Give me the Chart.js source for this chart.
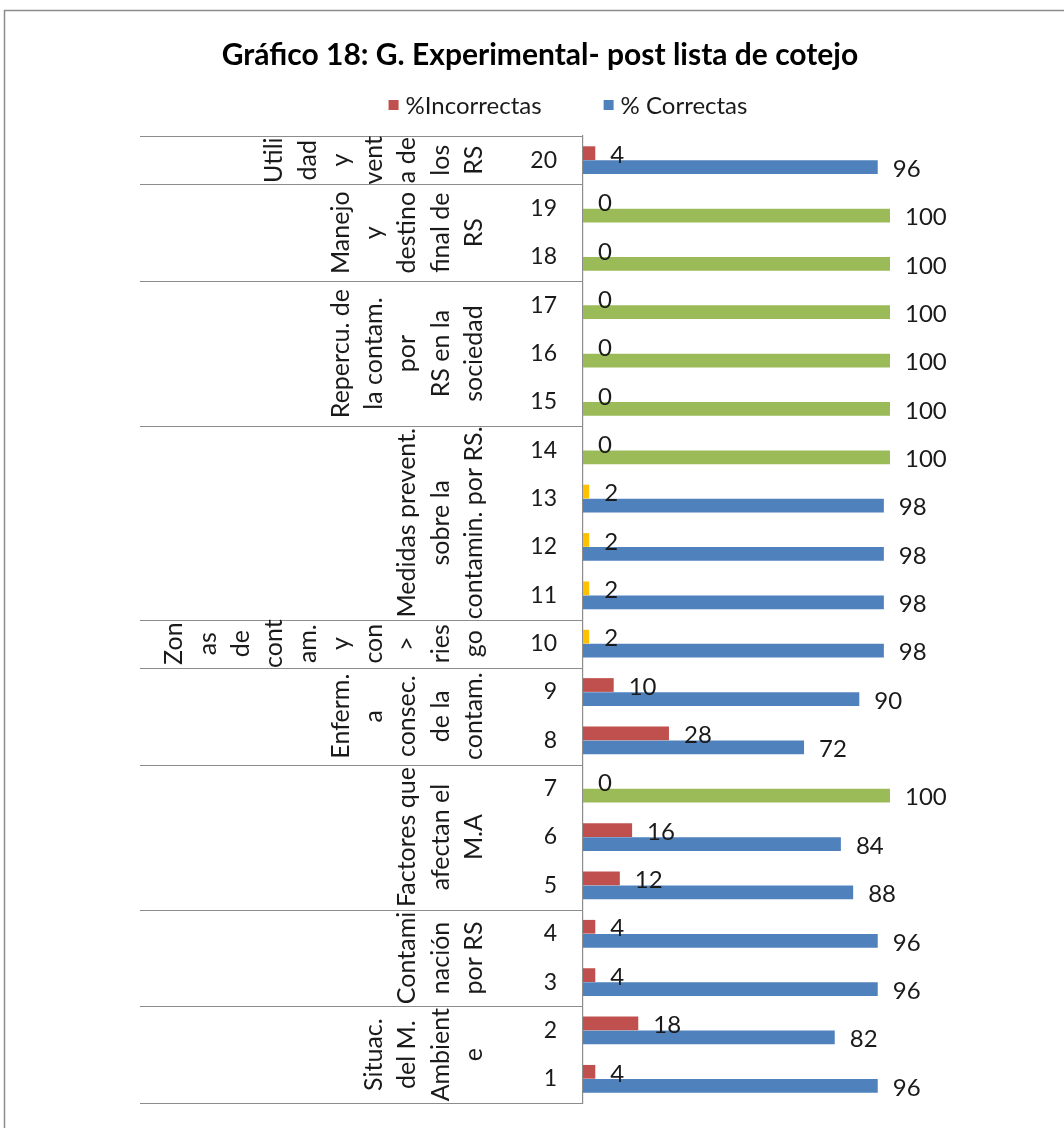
<!DOCTYPE html>
<html>
<head>
<meta charset="utf-8">
<script src="https://cdn.jsdelivr.net/npm/chart.js@4.4.1/dist/chart.umd.min.js"></script>
<style>
html,body{margin:0;padding:0;background:#fff;}
#wrap{width:1064px;height:1128px;position:relative;}
</style>
</head>
<body>
<div id="wrap"><canvas id="c" width="1064" height="1128"></canvas></div>
<script>
// ---- data ----
const chartTitle = 'Gráfico 18: G. Experimental- post lista de cotejo';
const seriesNames = ['%Incorrectas', '% Correctas'];
const categories = ['1','2','3','4','5','6','7','8','9','10','11','12','13','14','15','16','17','18','19','20'];
const incorrectas = [4, 18, 4, 4, 12, 16, 0, 28, 10, 2, 2, 2, 2, 0, 0, 0, 0, 0, 0, 4];
const correctas   = [96, 82, 96, 96, 88, 84, 100, 72, 90, 98, 98, 98, 98, 100, 100, 100, 100, 100, 100, 96];
// group labels (bottom to top), each as its wrapped lines, with the number of items in each group
const groupLines = [
  ['Situac.', 'del M.', 'Ambient', 'e'],
  ['Contami', 'nación', 'por RS'],
  ['Factores que', 'afectan el', 'M.A'],
  ['Enferm.', 'a', 'consec.', 'de la', 'contam.'],
  ['Zon', 'as', 'de', 'cont', 'am.', 'y', 'con', '>', 'ries', 'go'],
  ['Medidas prevent.', 'sobre la', 'contamin. por RS.'],
  ['Repercu. de', 'la contam.', 'por', 'RS en la', 'sociedad'],
  ['Manejo', 'y', 'destino', 'final de', 'RS'],
  ['Utili', 'dad', 'y', 'vent', 'a de', 'los', 'RS']
];
const groupSizes = [2, 2, 3, 2, 1, 4, 3, 2, 1];

// ---- styles ----
const RED = '#C0504D', BLUE = '#4F81BD', GREEN = '#9BBB59', YELLOW = '#FFC000';
const FONT = 'Lato, "Open Sans", sans-serif';
const TEXT = '#1a1a1a';
const LINE = '#8c8c8c';

const framePlugin = {
  id: 'frame',
  beforeDraw(chart) {
    const ctx = chart.ctx;
    ctx.save();
    ctx.fillStyle = '#fff';
    ctx.fillRect(0, 0, chart.width, chart.height);
    ctx.strokeStyle = LINE;
    ctx.lineWidth = 1.5;
    ctx.strokeRect(4.5, 10.5, chart.width + 20, chart.height + 20);
    ctx.restore();
  }
};

const legendPlugin = {
  id: 'customLegend',
  afterDraw(chart) {
    const ctx = chart.ctx;
    ctx.save();
    ctx.font = '24px ' + FONT;
    ctx.textBaseline = 'middle';
    ctx.textAlign = 'left';
    const cols = [RED, BLUE];
    const box = 10, gapText = 7, gapItem = 62;
    const w = seriesNames.map(s => ctx.measureText(s).width);
    const total = box + gapText + w[0] + gapItem + box + gapText + w[1];
    let x = 568 - total / 2;
    const y = 105;
    seriesNames.forEach((s, i) => {
      ctx.fillStyle = cols[i];
      ctx.fillRect(x, y - box / 2, box, box);
      x += box + gapText;
      ctx.fillStyle = TEXT;
      ctx.fillText(s, x, y + 1);
      x += w[i] + gapItem;
    });
    ctx.restore();
  }
};

const tablePlugin = {
  id: 'groupTable',
  afterDraw(chart) {
    const ctx = chart.ctx;
    const ys = chart.scales.y;
    const area = chart.chartArea;
    const band = (area.bottom - area.top) / categories.length;
    const tableLeft = 140;
    ctx.save();
    ctx.strokeStyle = LINE;
    ctx.lineWidth = 1.2;
    let start = 0;
    ctx.beginPath();
    ctx.moveTo(tableLeft, Math.round(area.bottom) + 0.5);
    ctx.lineTo(area.left, Math.round(area.bottom) + 0.5);
    ctx.stroke();
    ctx.font = '25px ' + FONT;
    ctx.fillStyle = TEXT;
    ctx.textAlign = 'center';
    ctx.textBaseline = 'middle';
    groupSizes.forEach((n, g) => {
      const end = start + n - 1;
      const yBottom = ys.getPixelForValue(start) + band / 2;
      const yTop = ys.getPixelForValue(end) - band / 2;
      ctx.beginPath();
      ctx.moveTo(tableLeft, Math.round(yTop) + 0.5);
      ctx.lineTo(area.left, Math.round(yTop) + 0.5);
      ctx.stroke();
      const lines = groupLines[g];
      const yc = (yTop + yBottom) / 2;
      lines.forEach((t, j) => {
        const x = 474 - (lines.length - 1 - j) * 33.3;
        ctx.save();
        ctx.translate(x, yc);
        ctx.rotate(-Math.PI / 2);
        ctx.fillText(t, 0, 0);
        ctx.restore();
      });
      start += n;
    });
    ctx.restore();
  }
};

const labelPlugin = {
  id: 'barLabels',
  afterDatasetsDraw(chart) {
    const ctx = chart.ctx;
    ctx.save();
    ctx.font = '24px ' + FONT;
    ctx.fillStyle = TEXT;
    ctx.textAlign = 'left';
    ctx.textBaseline = 'middle';
    chart.data.datasets.forEach((ds, i) => {
      chart.getDatasetMeta(i).data.forEach((bar, j) => {
        ctx.fillText(String(ds.data[j]), bar.x + 15, bar.y + 2);
      });
    });
    ctx.restore();
  }
};

new Chart(document.getElementById('c'), {
  type: 'bar',
  data: {
    labels: categories,
    datasets: [
      {
        label: seriesNames[0],
        data: incorrectas,
        backgroundColor: c => (incorrectas[c.dataIndex] === 2 ? YELLOW : RED),
        borderWidth: 0
      },
      {
        label: seriesNames[1],
        data: correctas,
        backgroundColor: c => (correctas[c.dataIndex] === 100 ? GREEN : BLUE),
        borderWidth: 0
      }
    ]
  },
  options: {
    indexAxis: 'y',
    responsive: false,
    animation: false,
    devicePixelRatio: 1,
    layout: { padding: { left: 16, right: 0, top: 0, bottom: 25 } },
    datasets: { bar: { categoryPercentage: 0.58, barPercentage: 0.98 } },
    scales: {
      x: { display: false, min: 0, max: 100 * (1064 - 583) / (890 - 583) },
      y: {
        reverse: true,
        grid: { display: false, drawTicks: false },
        border: { display: true, color: LINE, width: 1.2 },
        ticks: { padding: 26, color: TEXT, font: { family: FONT, size: 23 } },
        afterFit(s) { s.width = 567; s.paddingTop = 0; s.paddingBottom = 0; }
      }
    },
    plugins: {
      legend: { display: false },
      tooltip: { enabled: false },
      title: {
        display: true,
        text: chartTitle,
        color: '#000',
        font: { family: FONT, size: 30, weight: 'bold' },
        padding: { top: 37, bottom: 63 }
      }
    }
  },
  plugins: [framePlugin, tablePlugin, labelPlugin, legendPlugin]
});
</script>
</body>
</html>
